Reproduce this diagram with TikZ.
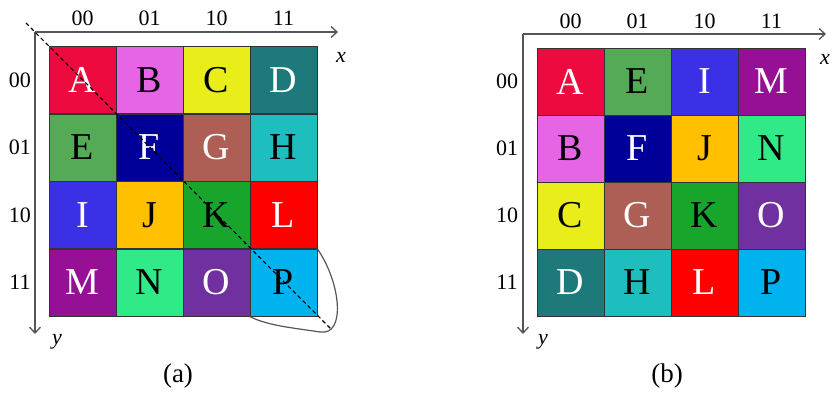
\documentclass[tikz,border=0pt]{standalone}
\usepackage{fontspec}
\setmainfont{Liberation Serif}
\usetikzlibrary{arrows.meta}

% cell colours
\definecolor{cA}{HTML}{EC0A3E}
\definecolor{cB}{HTML}{E565E5}
\definecolor{cC}{HTML}{E9EE1A}
\definecolor{cD}{HTML}{1E7A7A}
\definecolor{cE}{HTML}{55AA55}
\definecolor{cF}{HTML}{000099}
\definecolor{cG}{HTML}{AD5F55}
\definecolor{cH}{HTML}{1EBEBE}
\definecolor{cI}{HTML}{3B30E6}
\definecolor{cJ}{HTML}{FFC000}
\definecolor{cK}{HTML}{18A52C}
\definecolor{cL}{HTML}{FF0000}
\definecolor{cM}{HTML}{951095}
\definecolor{cN}{HTML}{30EA88}
\definecolor{cO}{HTML}{7030A0}
\definecolor{cP}{HTML}{00B2EE}
\definecolor{axisgray}{HTML}{555555}

\tikzset{
  cell/.style={draw=black!80, line width=0.8pt, minimum width=67pt,
    minimum height=67pt, inner sep=0pt, font=\fontsize{38}{38}\selectfont},
  axis/.style={axisgray, line width=1.3pt, -{Straight Barb[length=6pt,width=11pt]}},
  bits/.style={font=\fontsize{22}{22}\selectfont},
  axlabel/.style={font=\fontsize{22}{22}\selectfont\itshape},
  caption/.style={font=\fontsize{27}{27}\selectfont}
}

\begin{document}
\begin{tikzpicture}[x=1pt,y=-1pt]
    \useasboundingbox (0,0) rectangle (832,392);

    % Cells: (a) row by row, (b) column by column
    \foreach \l/\t [count=\i from 0] in {A/white,B/black,C/black,D/white,
        E/black,F/white,G/white,H/black,I/white,J/black,K/black,L/white,
        M/white,N/black,O/white,P/black} {
      \pgfmathtruncatemacro\r{\i/4}
      \pgfmathtruncatemacro\c{mod(\i,4)}
      \node[cell, fill=c\l, text=\t] (a\l) at ({82.5+67*\c}, {80+67.5*\r}) {\l};
      \node[cell, fill=c\l, text=\t] (b\l) at ({570.5+67*\r}, {81.5+67*\c}) {\l};
    }

    % Axes
    \coordinate (ao) at (35,32);
    \coordinate (ax) at (338,32);
    \coordinate (ay) at (35,334);
    \coordinate (bo) at (523,34);
    \coordinate (bx) at (826,34);
    \coordinate (by) at (523,334);
    \draw[axis] (ao) -- (ax);
    \draw[axis] (ao) -- (ay);
    \draw[axis] (bo) -- (bx);
    \draw[axis] (bo) -- (by);
    \node[axlabel] (xa) at (341,57) {x};
    \node[axlabel] (ya) at (57,342) {y};
    \node[axlabel] (xb) at (825,59) {x};
    \node[axlabel] (yb) at (543,342) {y};

    % Bit labels
    \foreach \b [count=\k from 0] in {00,01,10,11} {
      \node[bits] (ac\k) at ({82.5+67*\k}, 18) {\b};
      \node[bits] (ar\k) at (20, {80+67.5*\k}) {\b};
      \node[bits] (bc\k) at ({570.5+67*\k}, 21) {\b};
      \node[bits] (br\k) at (507, {81.5+67*\k}) {\b};
    }

    % Main diagonal and the fold
    \coordinate (d1) at (26,23);
    \coordinate (d2) at (331,329);
    \draw[black, line width=1.1pt, dash pattern=on 4pt off 3pt] (d1) -- (d2);
    \draw[axisgray, line width=1.2pt] (aL.south east)
      .. controls (341,283) and (346,336) .. (320,332)
      .. controls (295,328) and (268,326) .. (aP.south west);

    \node[caption] (capa) at (178,376) {(a)};
    \node[caption] (capb) at (667,376) {(b)};
\end{tikzpicture}
\end{document}
